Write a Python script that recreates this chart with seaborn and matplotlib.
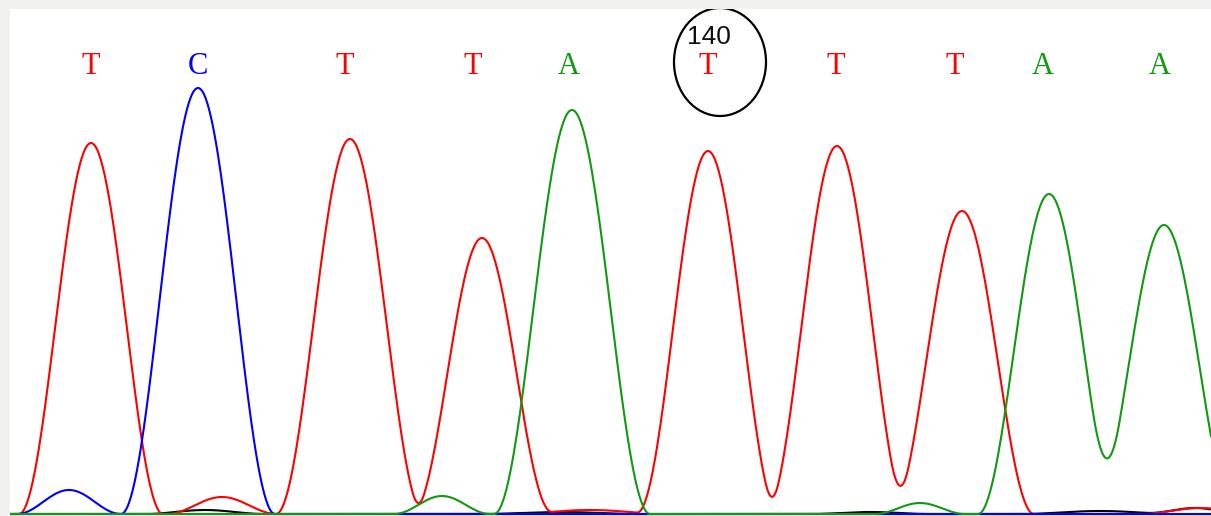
import numpy as np
import pandas as pd
import matplotlib.pyplot as plt
import seaborn as sns
from matplotlib.patches import Ellipse

# peaks, per channel: centre (scan), height, half-width at base
t_pos = [91, 222, 350, 482, 590, 708, 837, 962, 1200]
t_height = [371, 17, 375, 276, 4, 363, 368, 303, 6]
t_width = [72, 55, 74, 70, 80, 71, 72, 72, 60]

c_pos = [69, 198]
c_height = [24, 426]
c_width = [52, 77]

a_pos = [442, 572, 920, 1049, 1164]
a_height = [18, 404, 11, 320, 289]
a_width = [48, 78, 45, 71, 72]

g_pos = [205, 560, 870, 1100, 1195]
g_height = [4, 2, 2, 3, 6]
g_width = [60, 80, 60, 80, 50]

# base calls above the trace
calls = ["T", "C", "T", "T", "A", "T", "T", "T", "A", "A"]
call_pos = [91, 198, 345, 473, 569, 708, 836, 955, 1043, 1160]
marked_index = 5
marked_label = "140"

colors = {"T": "#ff0000", "C": "#0000ff", "A": "#109a10", "G": "#000000"}


def trace(pos, height, width, scan):
    # raised-cosine peak shape, summed per channel
    y = np.zeros_like(scan, dtype=float)
    for c, h, w in zip(pos, height, width):
        d = np.clip(np.abs(scan - c) / w, 0, 1)
        y += h * np.cos(np.pi * d / 2) ** 2
    return y


scan = np.arange(10, 1212)
channels = {"G": (g_pos, g_height, g_width),
            "T": (t_pos, t_height, t_width),
            "C": (c_pos, c_height, c_width),
            "A": (a_pos, a_height, a_width)}

frames = []
for base, (p, h, w) in channels.items():
    frames.append(pd.DataFrame({"scan": scan, "signal": trace(p, h, w, scan), "base": base}))
df = pd.concat(frames, ignore_index=True)

fig = plt.figure(figsize=(12.11, 5.16), dpi=100, facecolor="#f1f2f0")
ax = fig.add_axes([10 / 1211, 0, 1201 / 1211, 507 / 516])
ax.set_facecolor("white")

ax.axhline(-1.5, color="#8888ee", lw=1, zorder=1)
sns.lineplot(data=df, x="scan", y="signal", hue="base", palette=colors,
             hue_order=["G", "T", "C", "A"], estimator=None, sort=False,
             linewidth=1.5, legend=False, ax=ax)

for b, x in zip(calls, call_pos):
    ax.text(x, 448, b, color=colors[b], fontsize=22, family="Liberation Serif",
            ha="center", va="center")

mx = call_pos[marked_index]
ax.text(mx + 1, 477, marked_label, color="#101010", fontsize=19,
        family="Liberation Sans", ha="center", va="center")
ax.add_patch(Ellipse((mx + 12, 452), 92, 108, fill=False, color="black", lw=1.6))

ax.set_xlim(10, 1211)
ax.set_ylim(-2, 505)
ax.set_xticks([])
ax.set_yticks([])
ax.set_xlabel("")
ax.set_ylabel("")
for s in ax.spines.values():
    s.set_visible(False)

fig.savefig("out.png", dpi=100, facecolor=fig.get_facecolor())
